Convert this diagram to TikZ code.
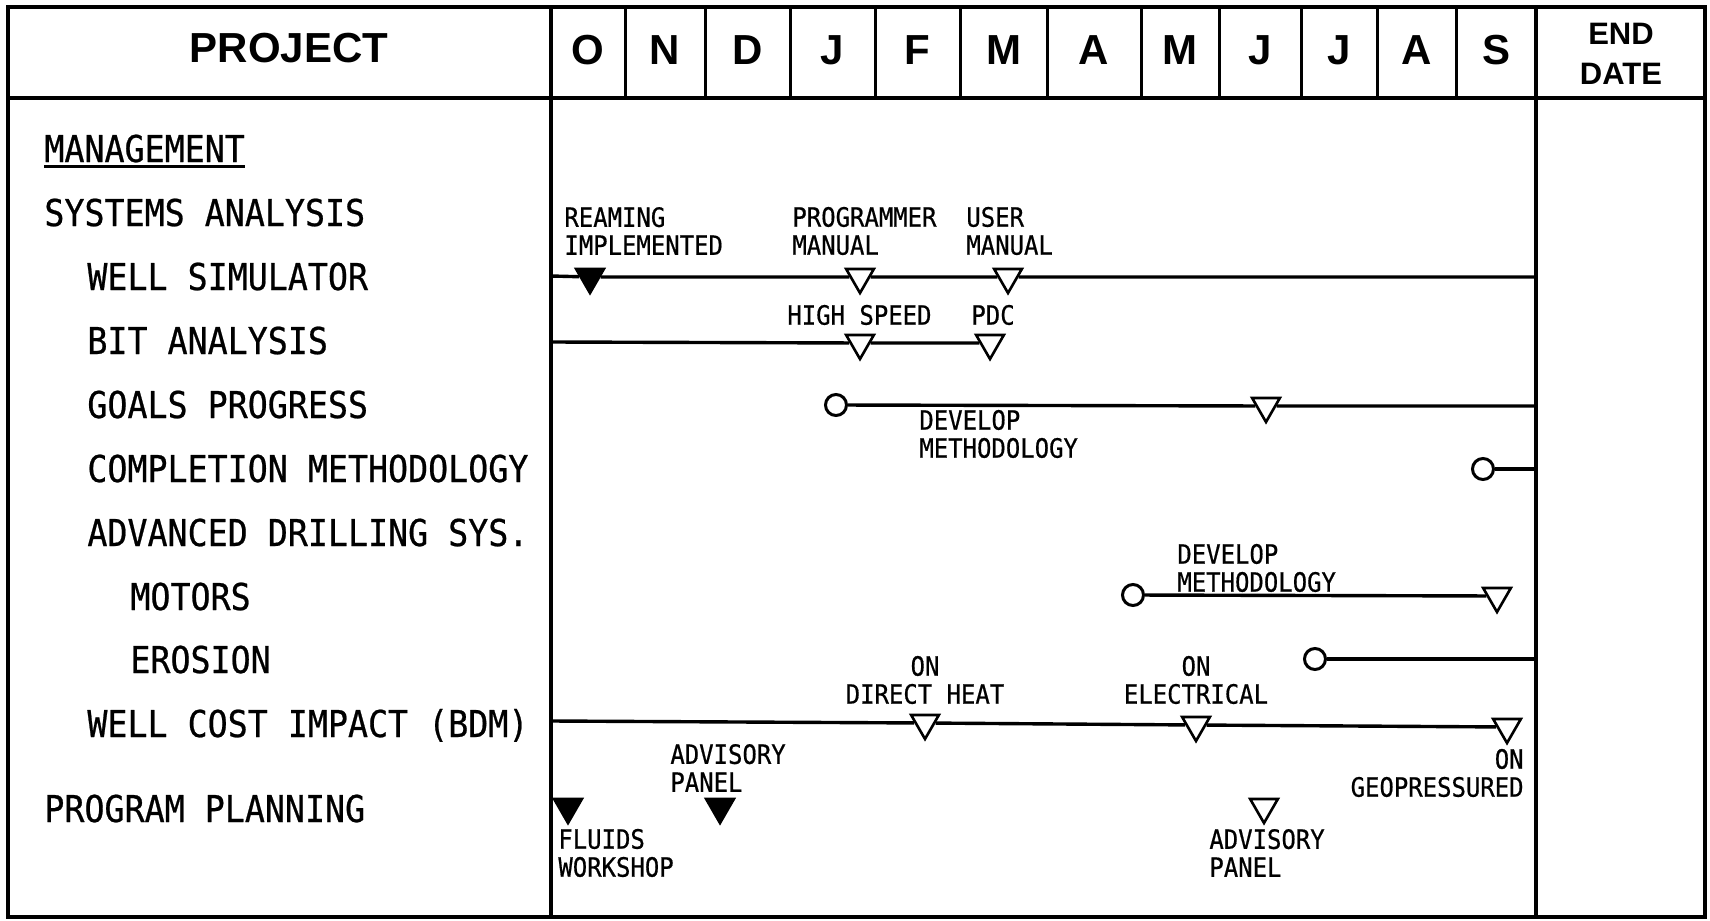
\documentclass[tikz,border=0pt]{standalone}
\usepackage{fontspec}
\usetikzlibrary{shapes.geometric}
\newfontfamily\hdrfamily{Liberation Sans}
\newfontfamily\typefamily[FakeStretch=0.9,FakeBold=0.6]{DejaVu Sans Mono}
\newcommand\hdrtype{\hdrfamily\bfseries\fontsize{21pt}{24pt}\selectfont}
\newcommand\datetype{\hdrfamily\bfseries\fontsize{15.5pt}{20pt}\selectfont}
\newcommand\rowtype{\typefamily\fontsize{18.5pt}{22pt}\selectfont}
\newcommand\notetype{\typefamily\fontsize{13.3pt}{14pt}\selectfont}

\begin{document}
\begin{tikzpicture}[x=0.5pt,y=-0.5pt,
  frame/.style={line width=2pt},
  rule/.style={line width=1.5pt},
  bar/.style={line width=1.7pt},
  mile/.style={regular polygon,regular polygon sides=3,shape border rotate=180,
    draw,line width=1.3pt,minimum size=16pt,inner sep=0pt},
  done/.style={mile,fill=black},
  due/.style={mile,fill=white},
  start/.style={circle,draw,line width=1.5pt,fill=white,minimum size=10.5pt,inner sep=0pt},
  row/.style={font=\rowtype,anchor=base west,inner sep=0pt},
  note/.style={font=\notetype,inner sep=0pt},
  hdr/.style={font=\hdrtype,inner sep=0pt}]
  \useasboundingbox (0,0) rectangle (1710,921);
  % frame and header
  \draw[frame] (8,7) rectangle (1705,917);
  \draw[frame] (8,98) -- (1705,98);
  \draw[frame] (551,7) -- (551,917);
  \draw[frame] (1536,7) -- (1536,917);
  \node[hdr] (proj) at (289,48) {PROJECT};
  \foreach \l/\r/\m [count=\i] in {551/625/O,625/705/N,705/790/D,790/875/J,
      875/960/F,960/1047/M,1047/1141/A,1141/1219/M,1219/1301/J,1301/1377/J,
      1377/1456/A,1456/1536/S}{
    \draw[rule] (\r,7) -- (\r,98);
    \node[hdr] (m\i) at ({(\l+\r)/2},50) {\m};
  }
  \node[hdr,font=\datetype,align=center] (end) at (1621,54) {END\\DATE};
  % projects
  \node[row] (mgmt) at (44,162) {MANAGEMENT};
  \draw[rule] ([yshift=-2pt]mgmt.base west) -- ([yshift=-2pt]mgmt.base east);
  \node[row] (sa) at (44,226) {SYSTEMS ANALYSIS};
  \node[row] (ws) at (87,290) {WELL SIMULATOR};
  \node[row] (ba) at (87,354) {BIT ANALYSIS};
  \node[row] (gp) at (87,418) {GOALS PROGRESS};
  \node[row] (cm) at (87,482) {COMPLETION METHODOLOGY};
  \node[row] (ad) at (87,546) {ADVANCED DRILLING SYS.};
  \node[row] (mo) at (130,610) {MOTORS};
  \node[row] (er) at (130,673) {EROSION};
  \node[row] (wc) at (87,737) {WELL COST IMPACT (BDM)};
  \node[row] (pp) at (44,822) {PROGRAM PLANNING};
  % well simulator
  \coordinate (ws0) at (551,276);
  \node[done] (ws1) at (590,277) {};
  \node[due] (ws2) at (860,277) {};
  \node[due] (ws3) at (1008,277) {};
  \coordinate (ws4) at (1536,277);
  \draw[bar] (ws0) -- (ws1) -- (ws2) -- (ws3) -- (ws4);
  \node[note,anchor=west,align=left] (ws1t) at (564,231) {REAMING\\IMPLEMENTED};
  \node[note,anchor=west,align=left] (ws2t) at (792,231) {PROGRAMMER\\MANUAL};
  \node[note,anchor=west,align=left] (ws3t) at (966,231) {USER\\MANUAL};
  % bit analysis
  \coordinate (ba0) at (551,342);
  \node[due] (ba1) at (860,343) {};
  \node[due] (ba2) at (990,343) {};
  \draw[bar] (ba0) -- (ba1) -- (ba2);
  \node[note,anchor=west] (ba1t) at (787,315) {HIGH SPEED};
  \node[note,anchor=west] (ba2t) at (971,315) {PDC};
  % goals progress
  \node[start] (gp0) at (836,405) {};
  \node[due] (gp1) at (1266,406) {};
  \coordinate (gp2) at (1536,406);
  \draw[bar] (gp0) -- (gp1) -- (gp2);
  \node[note,anchor=west,align=left] (gp0t) at (919,434) {DEVELOP\\METHODOLOGY};
  % completion methodology
  \node[start] (cm0) at (1483,469) {};
  \coordinate (cm1) at (1536,469);
  \draw[bar] (cm0) -- (cm1);
  % motors
  \node[start] (mo0) at (1133,595) {};
  \node[due] (mo1) at (1497,596) {};
  \draw[bar] (mo0) -- (mo1);
  \node[note,anchor=west,align=left] (mo0t) at (1177,568) {DEVELOP\\METHODOLOGY};
  % erosion
  \node[start] (er0) at (1315,659) {};
  \coordinate (er1) at (1536,659);
  \draw[bar] (er0) -- (er1);
  % well cost impact
  \coordinate (wc0) at (551,721);
  \node[due] (wc1) at (925,723) {};
  \node[due] (wc2) at (1196,725) {};
  \node[due] (wc3) at (1507,727) {};
  \draw[bar] (wc0) -- (wc1) -- (wc2) -- (wc3);
  \node[note,align=center] (wc1t) at (925,680) {ON\\DIRECT HEAT};
  \node[note,align=center] (wc2t) at (1196,680) {ON\\ELECTRICAL};
  \node[note,anchor=east,align=right] (wc3t) at (1524,773) {ON\\GEOPRESSURED};
  % program planning
  \node[done] (pp1) at (568,807) {};
  \node[done] (pp2) at (720,807) {};
  \node[due] (pp3) at (1264,807) {};
  \node[note,anchor=west,align=left] (pp1t) at (558,853) {FLUIDS\\WORKSHOP};
  \node[note,anchor=west,align=left] (pp2t) at (670,768) {ADVISORY\\PANEL};
  \node[note,anchor=west,align=left] (pp3t) at (1209,853) {ADVISORY\\PANEL};
\end{tikzpicture}
\end{document}
